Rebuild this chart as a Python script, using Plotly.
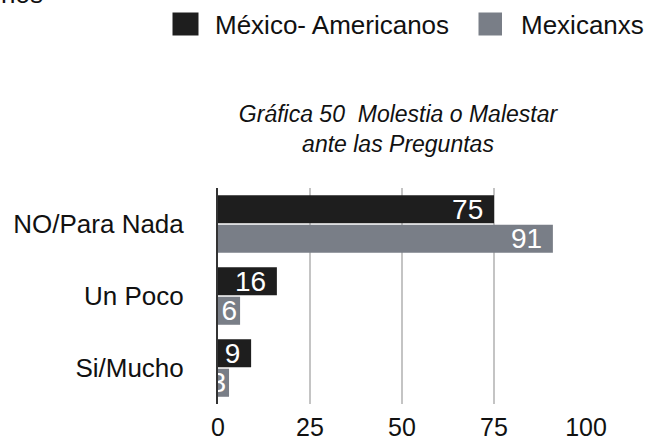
import plotly.graph_objects as go

# Survey data
categories = ["NO/Para Nada", "Un Poco", "Si/Mucho"]
series_names = ["México- Americanos", "Mexicanxs"]
mexico_americanos = [75, 16, 9]
mexicanxs = [91, 6, 3]
x_ticks = [0, 25, 50, 75, 100]

colors = ["#1e1e1e", "#797e87"]
font_family = "Liberation Sans, Arial, Helvetica, sans-serif"

W, H = 649, 440
L, R, T, B = 218, 63, 188, 36
PW, PH = W - L - R, H - T - B


def px_x(px):
    return (px - L) / PW


def px_y(py):
    return (H - B - py) / PH


def bar_labels(vals):
    # wide bars get a little breathing room after the number
    return [f"{v}\u00a0" if v >= 9 else f"{v}" for v in vals]


fig = go.Figure()
for name, vals, col in zip(series_names, [mexico_americanos, mexicanxs], colors):
    fig.add_trace(go.Bar(
        y=categories,
        x=vals,
        name=name,
        orientation="h",
        marker=dict(color=col, line=dict(width=0)),
        text=bar_labels(vals),
        textposition="inside",
        insidetextanchor="end",
        constraintext="none",
        textangle=0,
        textfont=dict(color="white", size=28, family=font_family),
        showlegend=False,
        hoverinfo="x+y",
    ))

# Legend drawn as swatches + labels
legend_items = [
    (172.5, 198.5, 214, series_names[0], colors[0]),
    (478.5, 502.0, 520, series_names[1], colors[1]),
]
for x0, x1, tx, label, col in legend_items:
    fig.add_shape(type="rect", xref="paper", yref="paper",
                  x0=px_x(x0), x1=px_x(x1), y0=px_y(35.5), y1=px_y(12.5),
                  fillcolor=col, line=dict(width=0), layer="above")
    fig.add_annotation(xref="paper", yref="paper", x=px_x(tx), y=px_y(24.5),
                       xanchor="left", yanchor="middle", text=label, showarrow=False,
                       borderpad=0, font=dict(size=26, color="#111111", family=font_family))

# clipped text fragment at the upper-left edge
fig.add_annotation(xref="paper", yref="paper", x=px_x(0), y=px_y(9.5),
                   xanchor="left", yanchor="bottom", text="nos", showarrow=False,
                   borderpad=0, font=dict(size=26, color="#111111", family=font_family))

fig.update_layout(
    width=W, height=H,
    margin=dict(l=L, r=R, t=T, b=B, pad=0, autoexpand=False),
    paper_bgcolor="white",
    plot_bgcolor="white",
    barmode="group",
    bargap=0.18,
    bargroupgap=0.05,
    font=dict(family=font_family, color="#111111"),
    title=dict(
        text="Gráfica 50\u00a0\u00a0Molestia o Malestar<br>ante las Preguntas",
        xref="paper", x=px_x(398), xanchor="center",
        yref="container", y=1 - 122 / H, yanchor="top",
        font=dict(size=23, color="#111111", family=font_family, style="italic"),
    ),
    xaxis=dict(
        range=[0, 100],
        tickvals=x_ticks,
        ticktext=[str(v) for v in x_ticks],
        showgrid=True, gridcolor="#c4c4c4", gridwidth=2,
        zeroline=False, showline=False,
        ticks="", ticklabelstandoff=6,
        automargin=False,
        tickfont=dict(size=25, color="#111111", family=font_family),
    ),
    yaxis=dict(
        autorange="reversed",
        showgrid=False, zeroline=False,
        showline=True, linecolor="#333333", linewidth=2,
        ticks="", ticklabelstandoff=27,
        automargin=False,
        tickfont=dict(size=26, color="#111111", family=font_family),
    ),
)

fig.write_html("out.html")
